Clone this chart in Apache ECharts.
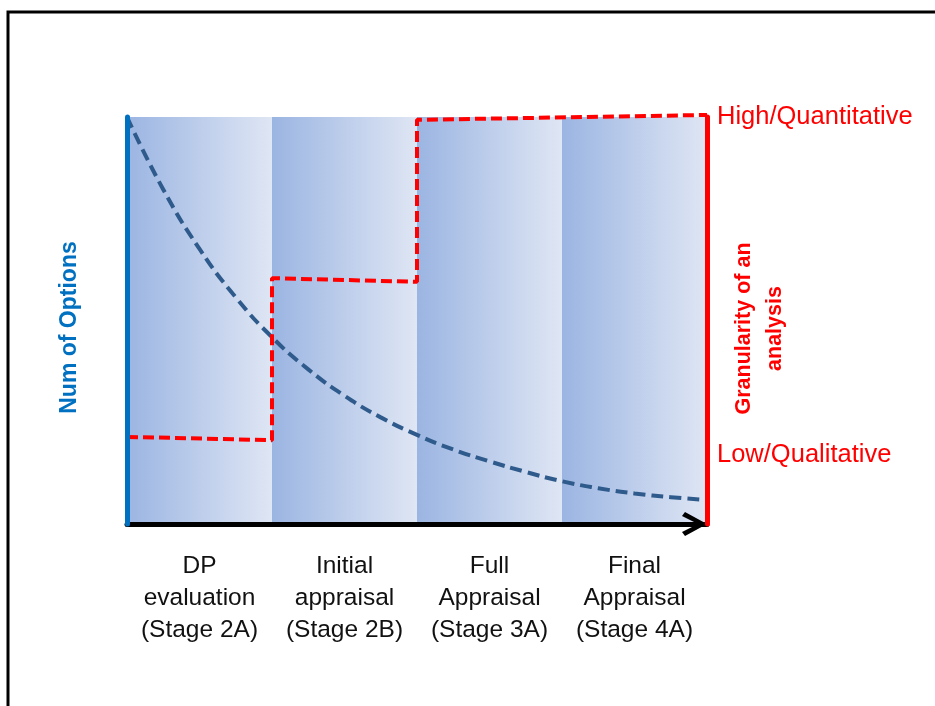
<!DOCTYPE html>
<html>
<head>
<meta charset="utf-8">
<script src="https://cdn.jsdelivr.net/npm/echarts@6/dist/echarts.min.js"></script>
<style>
  html, body { margin: 0; padding: 0; background: #fff; }
  #chart { width: 935px; height: 706px; }
</style>
</head>
<body>
<div id="chart"></div>
<script>
// Stage names along the horizontal axis
const stages = [
  'DP\nevaluation\n(Stage 2A)',
  'Initial\nappraisal\n(Stage 2B)',
  'Full\nAppraisal\n(Stage 3A)',
  'Final\nAppraisal\n(Stage 4A)'
];

// Stage band edges on the continuous stage scale
const bandEdges = [0, 1, 2, 3, 4];

// Number of options remaining (0-100 scale), every quarter stage
const optionsX = [0, 0.25, 0.5, 0.75, 1, 1.25, 1.5, 1.75, 2, 2.25, 2.5, 2.75, 3, 3.25, 3.5, 3.75, 4];
const optionsY = [100, 82.2, 67.6, 55.7, 45.9, 38.0, 31.5, 26.2, 21.9, 18.3, 15.4, 12.8, 10.5, 8.8, 7.5, 6.6, 5.9];

// Granularity of the analysis per stage (step profile)
const granularityX = [0, 1, 1, 2, 2, 4];
const granularityY = [21.4, 20.6, 60.4, 59.5, 99.3, 100.5];

// Right-hand axis annotations
const granularityTickValues = [17, 100];
const granularityTickLabels = ['Low/Qualitative', 'High/Quantitative'];

const FONT = '"Liberation Sans", Arial, sans-serif';

const chart = echarts.init(document.getElementById('chart'), null, { renderer: 'canvas' });

const bandFill = new echarts.graphic.LinearGradient(0, 0, 1, 0, [
  { offset: 0, color: '#9bb5e2' },
  { offset: 1, color: '#dfe6f4' }
]);

const bands = [];
for (let i = 0; i < bandEdges.length - 1; i++) {
  bands.push([{ xAxis: bandEdges[i] }, { xAxis: bandEdges[i + 1] }]);
}

const optionsLine = optionsX.map((x, i) => [x, optionsY[i]]);
const granularityLine = granularityX.map((x, i) => [x, granularityY[i]]);

chart.setOption({
  animation: false,
  backgroundColor: '#ffffff',
  graphic: [{
    type: 'rect',
    z: -10,
    shape: { x: 8, y: 12, width: 1000, height: 800 },
    style: { fill: 'none', stroke: '#000', lineWidth: 3 }
  }],
  grid: { left: 127, right: 228, top: 117, bottom: 182, outerBoundsMode: 'none', containLabel: false },
  xAxis: [{
    type: 'category',
    data: stages,
    boundaryGap: true,
    z: 10,
    axisLine: {
      show: true,
      lineStyle: { color: '#000', width: 5 },
      // open chevron arrow head
      symbol: ['none', 'path://M12,0 L24,22 L20,25 L12,9 L4,25 L0,22 Z'],
      symbolSize: [24, 25],
      symbolOffset: [0, -12.5]
    },
    axisTick: { show: false },
    axisLabel: {
      interval: 0,
      hideOverlap: false,
      fontFamily: FONT, fontSize: 24.5, lineHeight: 32, color: '#111', margin: 26
    }
  }, {
    type: 'value',
    min: 0, max: 4,
    show: false
  }],
  yAxis: [{
    type: 'value',
    position: 'left',
    min: 0, max: 100,
    z: 11,
    splitLine: { show: false },
    axisTick: { show: false },
    axisLabel: { show: false },
    axisLine: { show: true, lineStyle: { color: '#0070c0', width: 5 } },
    name: 'Num of Options',
    nameLocation: 'middle',
    nameRotate: 90,
    nameGap: 46,
    nameMoveOverlap: false,
    nameTextStyle: { fontFamily: FONT, fontSize: 23, fontWeight: 'bold', color: '#0070c0', padding: [0, 14, 0, 0] }
  }, {
    type: 'value',
    position: 'right',
    min: 0, max: 100,
    z: 11,
    splitLine: { show: false },
    axisTick: { show: false },
    axisLine: { show: true, lineStyle: { color: '#ff0000', width: 5 } },
    axisLabel: {
      show: true,
      customValues: granularityTickValues,
      formatter: v => granularityTickLabels[granularityTickValues.indexOf(v)] || '',
      fontFamily: FONT, fontSize: 25.5, color: '#ff0000', margin: 10,
      padding: [5, 0, 0, 0]
    },
    name: 'Granularity of an\nanalysis',
    nameLocation: 'middle',
    nameRotate: 90,
    nameGap: 22,
    nameMoveOverlap: false,
    nameTextStyle: { fontFamily: FONT, fontSize: 21.5, fontWeight: 'bold', color: '#ff0000', lineHeight: 31, padding: [0, 16, 0, 0] }
  }],
  series: [{
    // stage bands
    type: 'line',
    xAxisIndex: 1,
    yAxisIndex: 0,
    data: [],
    z: 1,
    silent: true,
    markArea: {
      silent: true,
      itemStyle: { color: bandFill },
      data: bands
    }
  }, {
    name: 'Num of Options',
    type: 'line',
    xAxisIndex: 1,
    yAxisIndex: 0,
    data: optionsLine,
    smooth: true,
    showSymbol: false,
    z: 3,
    lineStyle: { color: '#2f5b8c', width: 4, type: [12, 6] }
  }, {
    name: 'Granularity',
    type: 'line',
    xAxisIndex: 1,
    yAxisIndex: 0,
    data: granularityLine,
    showSymbol: false,
    clip: false,
    z: 4,
    lineStyle: { color: '#ff0000', width: 4, type: [11, 5] }
  }]
});
</script>
</body>
</html>
